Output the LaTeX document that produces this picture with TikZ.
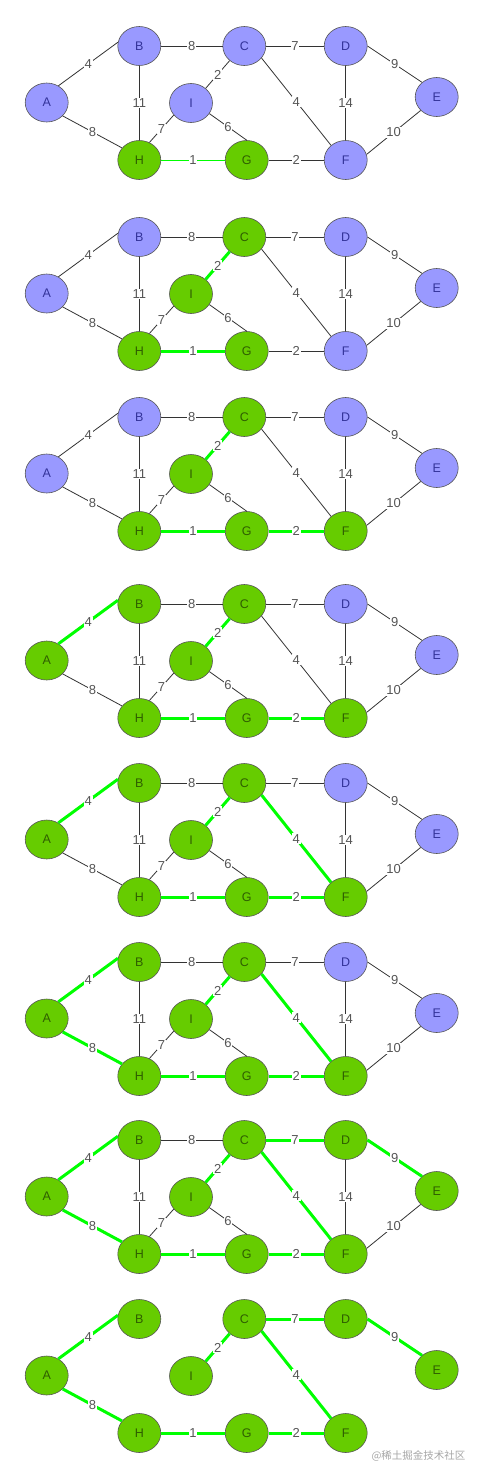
\documentclass[tikz,border=0pt]{standalone}
\usepackage{fontspec}
\setmainfont{Liberation Sans}
\newfontfamily\cjkfont{Noto Sans CJK SC}
\usetikzlibrary{shapes.geometric}
\definecolor{nodeblue}{HTML}{9999FF}
\definecolor{nodegreen}{HTML}{66CC00}
\definecolor{textblue}{HTML}{333399}
\definecolor{textgreen}{HTML}{2F5F00}
\definecolor{nodeline}{HTML}{555555}
\definecolor{edgegray}{HTML}{333333}
\definecolor{treegreen}{HTML}{00FF00}
\definecolor{labelgray}{HTML}{555555}
\begin{document}
\begin{tikzpicture}[
        x=1pt, y=-1pt,
        vert/.style={ellipse, draw=nodeline, line width=0.6pt, minimum width=43pt, minimum height=39pt, inner sep=0pt, font=\fontsize{12.5}{13}\selectfont},
        todo/.style={vert, fill=nodeblue, text=textblue},
        done/.style={vert, fill=nodegreen, text=textgreen},
        edge/.style={draw=edgegray, line width=0.8pt},
        firstlink/.style={draw=treegreen, line width=1pt},
        tree/.style={draw=treegreen, line width=3pt},
        weight/.style={fill=white, inner sep=0.8pt, text=labelgray, font=\fontsize{13}{13}\selectfont}
    ]
        \useasboundingbox (0,0) rectangle (483,1478);

        % one panel per step, y = centre of B
        \foreach \p/\y in {1/46, 2/237, 3/417, 4/604, 5/783, 6/962, 7/1140, 8/1319} {
            % name/x/dy/step from which the vertex is in the tree
            \foreach \n/\x/\dy/\k in {A/46.7/56.5/4, B/139.3/0/4, C/244.3/0/2, D/345.7/0/7, E/436.7/51/7,
                                      I/191/57/2, H/139.3/114/1, G/246.7/114/1, F/345.7/114/3} {
                \ifnum\p<\k \tikzset{cur/.style={todo}}\else\tikzset{cur/.style={done}}\fi
                \node[cur] (\n\p) at (\x,\y+\dy) {\n};
            }
            % from/anchor/to/anchor/weight/step from which the edge is in the tree (99 = never)
            \foreach \a/\sa/\b/\sb/\w/\k in {A/55/B/170/4/4, A/-40/H/145/8/6, B/east/C/west/8/99,
                                             B/south/H/north/11/99, C/east/D/west/7/7, C/225/I/45/2/2,
                                             C/-35/F/135/4/5, D/south/F/north/14/99, D/east/E/135/9/7,
                                             E/220/F/15/10/99, I/215/H/60/7/99, I/-30/G/north/6/99,
                                             H/east/G/west/1/1, G/east/F/west/2/3} {
                \ifnum\p<8 \def\vis{1}\else\ifnum\k<99 \def\vis{1}\else\def\vis{0}\fi\fi
                \ifnum\p<\k \tikzset{link/.style={edge}}
                \else\ifnum\p=1 \tikzset{link/.style={firstlink}}\else\tikzset{link/.style={tree}}\fi\fi
                \ifnum\vis=1
                    \path[link] (\a\p.\sa) -- node[weight] {\w} (\b\p.\sb);
                \fi
            }
        }

        \node[text=black!35, font=\cjkfont\fontsize{10.5}{11}\selectfont, anchor=east] (mark) at (469,1456) {@稀土掘金技术社区};
    \end{tikzpicture}
\end{document}
